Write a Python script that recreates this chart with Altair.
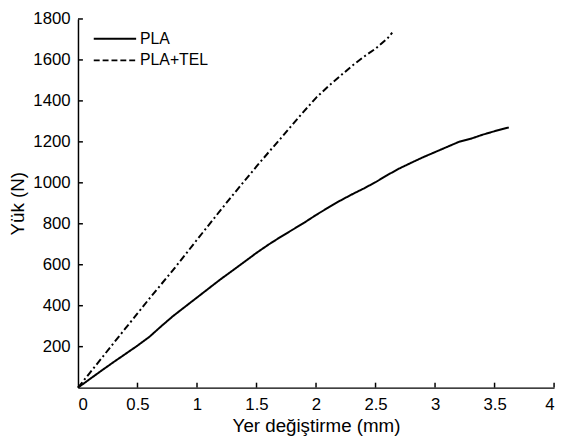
import altair as alt
import pandas as pd

pla_x = [0, 0.1, 0.2, 0.3, 0.4, 0.5, 0.6, 0.7, 0.8, 0.9, 1.0, 1.1, 1.2, 1.3, 1.4, 1.5, 1.6, 1.7, 1.8, 1.9, 2.0,
         2.1, 2.2, 2.3, 2.4, 2.5, 2.6, 2.7, 2.8, 2.9, 3.0, 3.1, 3.2, 3.3, 3.4, 3.5, 3.6, 3.62]
pla_y = [0, 42, 84, 125, 165, 205, 248, 300, 350, 395, 440, 485, 530, 572, 615, 658, 698, 735, 770, 805, 843,
         878, 912, 943, 972, 1003, 1038, 1070, 1098, 1125, 1150, 1175, 1200, 1215, 1235, 1252, 1268, 1270]
tel_x = [0, 0.1, 0.2, 0.3, 0.4, 0.5, 0.6, 0.7, 0.8, 0.9, 1.0, 1.1, 1.2, 1.3, 1.4, 1.5, 1.6, 1.7, 1.8, 1.9, 2.0,
         2.1, 2.2, 2.3, 2.4, 2.5, 2.6, 2.64]
tel_y = [0, 72, 145, 218, 290, 362, 435, 505, 575, 648, 722, 795, 868, 940, 1010, 1080, 1148, 1215, 1283, 1350, 1415,
         1470, 1520, 1570, 1615, 1655, 1705, 1733]
series_names = ["PLA", "PLA+TEL"]
x_ticks = [0.5, 1, 1.5, 2, 2.5, 3, 3.5, 4]
y_ticks = [200, 400, 600, 800, 1000, 1200, 1400, 1600, 1800]

rows = [{"x": a, "y": b, "s": series_names[0], "o": i} for i, (a, b) in enumerate(zip(pla_x, pla_y))]
rows += [{"x": a, "y": b, "s": series_names[1], "o": i} for i, (a, b) in enumerate(zip(tel_x, tel_y))]
df = pd.DataFrame(rows)

W, H = 483, 374
FONT = "Liberation Sans"
DASHES = [[1, 0], [7, 3, 2, 3]]
LEGEND_DASHES = [[1, 0], [6, 3]]

xs = alt.Scale(domain=[0, 4], nice=False, zero=False)
ys = alt.Scale(domain=[0, 1800], nice=False)

lines = alt.Chart(df).mark_line(color="black", strokeWidth=2).encode(
    x=alt.X("x:Q", scale=xs, axis=alt.Axis(values=[0] + x_ticks, format="~g", title="Yer değiştirme (mm)", tickSize=0,
                                            labelPadding=9, titlePadding=5, grid=False)),
    y=alt.Y("y:Q", scale=ys, axis=alt.Axis(values=y_ticks, format="d", title="Yük (N)", tickSize=0,
                                            labelPadding=8, titlePadding=5, grid=False)),
    strokeDash=alt.StrokeDash("s:N", scale=alt.Scale(domain=series_names, range=DASHES), legend=None),
    detail="s:N",
    order="o:Q",
)

xt = alt.Chart(pd.DataFrame({"t": x_ticks})).mark_rule(color="black", strokeWidth=1.5).encode(
    x=alt.X("t:Q", scale=xs), y=alt.value(H), y2=alt.value(H - 5))
yt = alt.Chart(pd.DataFrame({"t": y_ticks})).mark_rule(color="black", strokeWidth=1.5).encode(
    y=alt.Y("t:Q", scale=ys), x=alt.value(0), x2=alt.value(5))

legend_layers = []
for i, name in enumerate(series_names):
    ly = 20 + 22 * i
    d = pd.DataFrame({"s": [name]})
    legend_layers.append(alt.Chart(d).mark_rule(color="black", strokeWidth=2, strokeDash=LEGEND_DASHES[i]).encode(
        x=alt.value(16), x2=alt.value(59), y=alt.value(ly)))
    legend_layers.append(alt.Chart(d).mark_text(align="left", baseline="middle", font=FONT, fontSize=16,
                                                color="black").encode(
        x=alt.value(63), y=alt.value(ly), text="s:N"))

chart = alt.layer(lines, xt, yt, *legend_layers).properties(
    width=W, height=H,
    background="white",
    autosize=alt.AutoSizeParams(type="none"),
    padding={"left": 71, "top": 8, "right": 5, "bottom": 50},
).configure_view(stroke=None).configure_axis(
    domainColor="black", domainWidth=1.5, labelFont=FONT, titleFont=FONT, labelFontSize=17,
    titleFontSize=19, titleFontWeight="normal", labelColor="black", titleColor="black",
)

chart.save("out.html", embed_options={"renderer": "svg", "actions": False})
